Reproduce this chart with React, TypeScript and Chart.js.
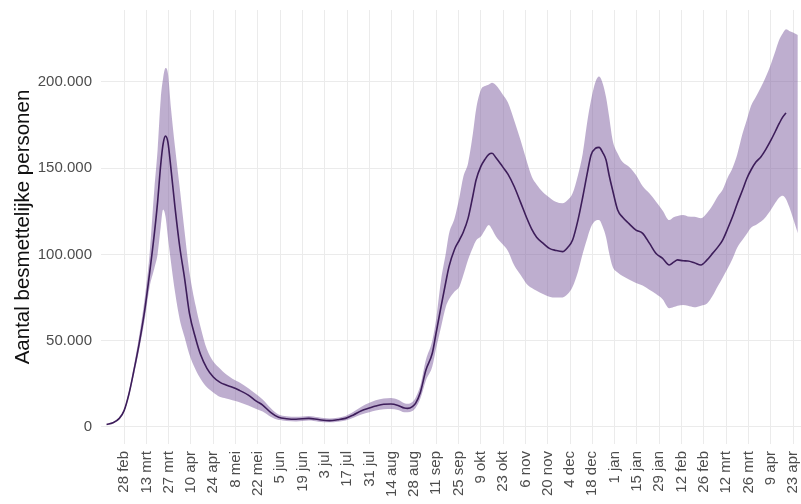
import React, { useEffect, useRef } from "react";
import { Chart, registerables } from "chart.js";

Chart.register(...registerables);

// day offsets relative to 28 feb 2020
const days = [
  -11, -7, -3, 0, 3, 6, 9.5, 13, 16, 19, 21, 23, 24.5, 26, 27.5, 29.5, 32, 35, 38, 41,
  45, 48, 52, 56, 60, 64, 68, 72, 78, 83, 87, 92, 97, 102, 108, 116, 122, 129, 134, 139,
  144, 149, 154, 158, 163, 167.5, 172, 176, 178, 181, 183, 186, 189.5, 193.5, 196, 199, 202, 204, 207.5, 210.5,
  213, 216, 219, 221, 224, 226.5, 229, 231, 233.5, 237.5, 241, 245, 249, 252.5, 256, 259, 263, 267, 271, 275.3,
  278.5, 281.6, 285, 288, 291, 293.2, 296, 298.2, 300.5, 302.6, 304.5, 306.7, 309.9, 313, 317, 321.4, 325.6, 329.8, 334, 338.1,
  342.3, 345, 347.5, 351, 354, 358, 362.2, 366, 369.5, 373, 375.8, 379, 382, 385, 388.3, 391, 393.6, 396.7, 399.9, 403,
  406.2, 409, 411.4, 413.5, 415.6, 417.6, 420, 423,
];

const median = [
  1500, 2500, 5000, 9500, 19000, 32000, 48500, 68000, 89000, 112000, 130000, 152000, 164000, 168500, 165000, 149000, 127000, 104000, 86000, 66000,
  51000, 42000, 34000, 29000, 26000, 24300, 23000, 21400, 18500, 15000, 12700, 8500, 5600, 4800, 4500, 5000, 4300, 3700, 4200, 5000,
  7000, 9400, 11000, 12200, 13200, 13300, 12500, 11000, 10800, 11800, 13700, 20000, 33000, 42700, 55000, 69700, 84000, 92900, 103000, 108300,
  113000, 121000, 134000, 143100, 151000, 155000, 158000, 158600, 156000, 151000, 146500, 139200, 130000, 121800, 114500, 110000, 106500, 103500, 102300, 101600,
  104000, 108300, 120000, 133400, 148000, 157600, 161500, 162000, 159000, 154700, 146000, 137300, 125700, 121500, 117800, 114100, 112200, 106500, 100500, 97700,
  93900, 95500, 96800, 96300, 96200, 95200, 93900, 96800, 100600, 104500, 108300, 115000, 121800, 129500, 137300, 144000, 148900, 153500, 156600, 161000,
  166300, 171500, 176000, 179500, 182000, null, null, null,
];

const lower = [
  1300, 2200, 4500, 8800, 17500, 29500, 45000, 62500, 81000, 92000, 100000, 116000, 126000, 122000, 110000, 95000, 78000, 62000, 52000, 42000,
  33000, 28000, 23000, 20000, 17500, 16500, 15500, 14500, 12500, 10500, 9000, 6000, 4000, 3500, 3200, 3700, 3100, 2700, 3000, 3800,
  5300, 7200, 8500, 9500, 10300, 10400, 9800, 8500, 8500, 9300, 11000, 16500, 27000, 35000, 46000, 58000, 69700, 74000, 78500, 81300,
  88000, 97000, 104000, 108000, 110300, 114000, 117000, 114500, 110300, 106000, 102000, 93500, 88000, 83200, 80500, 79000, 77000, 75500, 75000, 75100,
  77000, 81300, 90000, 100600, 110000, 116000, 119500, 119900, 116000, 110000, 101000, 93000, 89500, 87500, 85500, 83500, 82000, 79500, 77000, 74000,
  68800, 69500, 70300, 70700, 70200, 69400, 70300, 71500, 76000, 82000, 86500, 92000, 97500, 104000, 108500, 112000, 115500, 117000, 119000, 121800,
  126000, 130000, 133000, 134000, 132000, 127600, 121000, 112200,
];

const upper = [
  1700, 2800, 5500, 10300, 20500, 34500, 53000, 75000, 100000, 138000, 160000, 190000, 202000, 208000, 205000, 184000, 162000, 138000, 113000, 90000,
  70000, 58000, 45000, 38000, 34000, 30500, 28000, 26000, 22500, 19000, 16000, 11000, 7200, 6200, 5900, 6400, 5600, 4900, 5400, 6400,
  8800, 11800, 14000, 15500, 16500, 16800, 15800, 13800, 13500, 14500, 17000, 24000, 39000, 50000, 63000, 85000, 100600, 112000, 121000, 133000,
  145000, 153000, 170000, 184000, 195300, 197500, 198500, 199500, 198000, 193000, 188000, 177500, 166000, 155000, 145000, 140500, 136000, 133000, 130500, 129600,
  131500, 135400, 146000, 158600, 178000, 189500, 200000, 203000, 199000, 191000, 180000, 166300, 158500, 153500, 150800, 146000, 139500, 135400, 130500, 125500,
  119900, 121500, 122300, 122800, 122000, 121800, 120900, 124000, 128500, 134000, 137500, 144500, 150000, 158000, 170000, 178000, 186000, 191400, 197000, 203000,
  210500, 218000, 224500, 228000, 230400, 229500, 228500, 227100,
];

const tickDays = [
  0, 14, 28, 42, 56, 70, 84, 98, 112, 126, 140, 154, 168, 182, 196, 210,
  224, 238, 252, 266, 280, 294, 308, 322, 336, 350, 364, 378, 392, 406, 420,
];
const tickLabels = [
  "28 feb", "13 mrt", "27 mrt", "10 apr", "24 apr", "8 mei", "22 mei", "5 jun", "19 jun", "3 jul",
  "17 jul", "31 jul", "14 aug", "28 aug", "11 sep", "25 sep", "9 okt", "23 okt", "6 nov", "20 nov",
  "4 dec", "18 dec", "1 jan", "15 jan", "29 jan", "12 feb", "26 feb", "12 mrt", "26 mrt", "9 apr", "23 apr",
];
const yTicks = [0, 50000, 100000, 150000, 200000];

const FONT = "'Liberation Sans', Arial, sans-serif";

function fmt(v: number): string {
  return Math.round(v).toString().replace(/\B(?=(\d{3})+(?!\d))/g, ".");
}

export default function App() {
  const ref = useRef<HTMLCanvasElement | null>(null);

  useEffect(() => {
    if (!ref.current) return;
    const toPts = (vals: (number | null)[]) => days.map((d, i) => ({ x: d, y: vals[i] }));
    const chart = new Chart(ref.current, {
      type: "line",
      data: {
        datasets: [
          {
            label: "mediaan",
            data: toPts(median) as any,
            borderColor: "#3d1d5a",
            borderWidth: 1.6,
            pointRadius: 0,
            fill: false,
            cubicInterpolationMode: "monotone",
            spanGaps: false,
          },
          {
            label: "onder",
            data: toPts(lower) as any,
            borderWidth: 0,
            borderColor: "rgba(0,0,0,0)",
            pointRadius: 0,
            fill: false,
            cubicInterpolationMode: "monotone",
          },
          {
            label: "boven",
            data: toPts(upper) as any,
            borderWidth: 0,
            borderColor: "rgba(0,0,0,0)",
            backgroundColor: "rgba(125, 93, 159, 0.5)",
            pointRadius: 0,
            fill: "-1",
            cubicInterpolationMode: "monotone",
          },
        ],
      },
      options: {
        animation: false,
        responsive: false,
        maintainAspectRatio: false,
        layout: { padding: { left: 0, right: 0, top: 10, bottom: 0 } },
        plugins: { legend: { display: false }, tooltip: { enabled: false } },
        scales: {
          x: {
            type: "linear",
            min: -14.5,
            max: 425,
            afterBuildTicks: (scale: any) => {
              scale.ticks = tickDays.map((v) => ({ value: v }));
            },
            afterFit: (scale: any) => {
              scale.height = 60;
              scale.paddingLeft = 0;
              scale.paddingRight = 0;
            },
            grid: { color: "#ebebeb", lineWidth: 1, drawTicks: false },
            border: { display: false },
            ticks: {
              autoSkip: false,
              maxRotation: 90,
              minRotation: 90,
              padding: 7,
              color: "#4d4d4d",
              font: { family: FONT, size: 15 },
              callback: (value: any) => {
                const idx = tickDays.indexOf(Number(value));
                return idx >= 0 ? tickLabels[idx] : "";
              },
            },
          },
          y: {
            type: "linear",
            min: -9850,
            max: 241600,
            afterBuildTicks: (scale: any) => {
              scale.ticks = yTicks.map((v) => ({ value: v }));
            },
            afterFit: (scale: any) => {
              scale.width = 101;
              scale.paddingTop = 0;
              scale.paddingBottom = 0;
            },
            grid: { color: "#ebebeb", lineWidth: 1, drawTicks: false },
            border: { display: false },
            ticks: {
              padding: 9,
              color: "#4d4d4d",
              font: { family: FONT, size: 15 },
              callback: (value: any) => fmt(Number(value)),
            },
            title: {
              display: true,
              text: "Aantal besmettelijke personen",
              color: "#111111",
              font: { family: FONT, size: 20.5 },
              padding: { top: 11, bottom: 0 },
            },
          },
        },
      },
    });
    return () => chart.destroy();
  }, []);

  return (
    <div style={{ position: "absolute", left: 0, top: 0, width: 801, height: 504, background: "#ffffff" }}>
      <canvas ref={ref} width={801} height={504} style={{ width: 801, height: 504, display: "block" }} />
    </div>
  );
}
